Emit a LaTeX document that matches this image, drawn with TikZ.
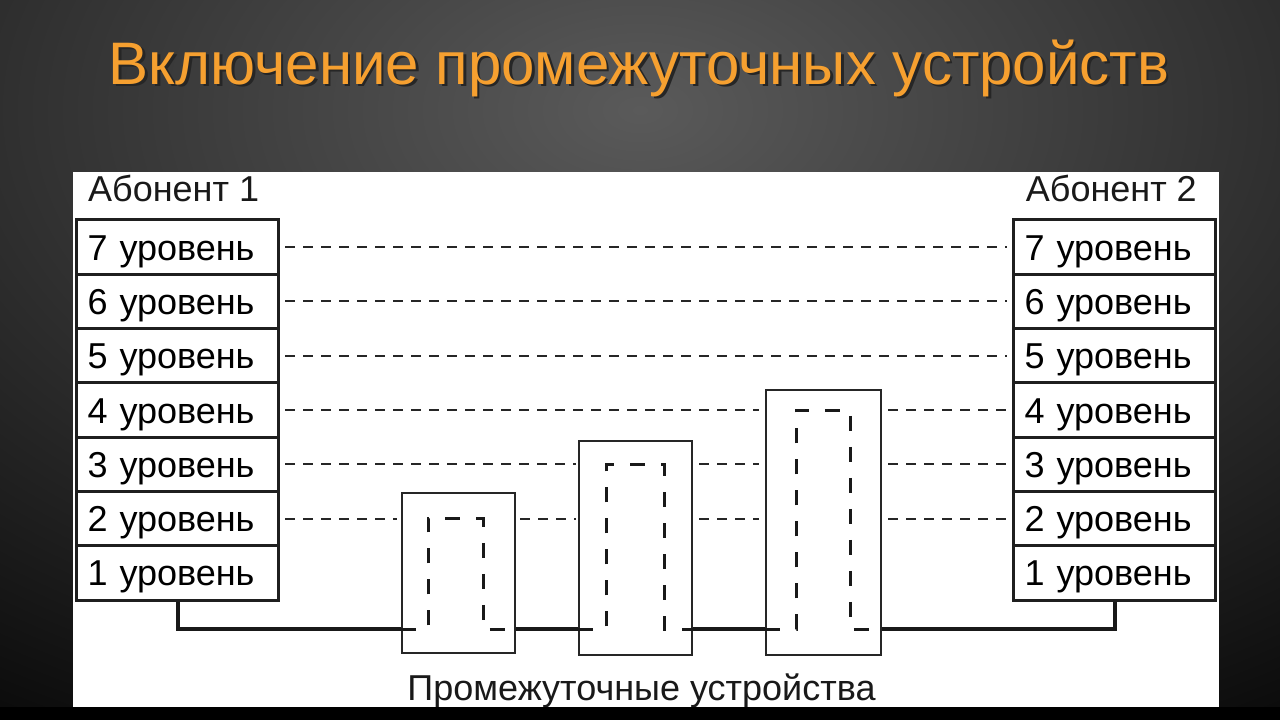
\documentclass[tikz,border=0pt]{standalone}
\usepackage{fontspec}
\setmainfont{Liberation Sans}
\definecolor{ttlorange}{RGB}{246,160,48}
\definecolor{bgmid}{RGB}{90,90,90}
\newcommand\lblfont{\fontsize{36}{40}\selectfont}
\newcommand\ttlfont{\fontsize{60}{66}\selectfont}
\begin{document}
\begin{tikzpicture}[x=1pt,y=-1pt,
  lay/.style={draw=black!88, line width=3pt, fill=white, minimum width=202pt,
    minimum height=54.29pt, inner xsep=11pt, inner ysep=0pt, text width=180pt,
    align=left, text height=26pt, text depth=0pt, font=\lblfont},
  dev/.style={draw=black!85, line width=2.5pt, fill=white, inner sep=0pt},
  conn/.style={dash pattern=on 10pt off 8pt, line width=2pt, black!85},
  innerpath/.style={dash pattern=on 15pt off 16pt, line width=3pt, black!90},
  phys/.style={line width=4pt, black!90},
  txt/.style={font=\lblfont, inner sep=0pt, text=black!90}]
\useasboundingbox (0,0) rectangle (1280,720);
% background
\fill[black] (0,0) rectangle (1280,720);
\begin{scope}
  \clip (0,0) rectangle (1280,720);
  \shade[inner color=bgmid, outer color=black] (640,110) ellipse (1350pt and 820pt);
\end{scope}
% title
\node[font=\ttlfont, text=black!85, anchor=base, inner sep=0pt] (titleshadow) at (641.5,86.5) {Включение промежуточных устройств};
\node[font=\ttlfont, text=ttlorange, anchor=base, inner sep=0pt] (title) at (639,84) {Включение промежуточных устройств};
% panel
\fill[white] (73,172) rectangle (1219,707);
% layer stacks
\node[lay] (L7) at (177.5,247.14) {7 уровень};
\node[lay] (L6) at (177.5,301.43) {6 уровень};
\node[lay] (L5) at (177.5,355.71) {5 уровень};
\node[lay] (L4) at (177.5,410.00) {4 уровень};
\node[lay] (L3) at (177.5,464.29) {3 уровень};
\node[lay] (L2) at (177.5,518.57) {2 уровень};
\node[lay] (L1) at (177.5,572.86) {1 уровень};
\node[lay] (R7) at (1114.5,247.14) {7 уровень};
\node[lay] (R6) at (1114.5,301.43) {6 уровень};
\node[lay] (R5) at (1114.5,355.71) {5 уровень};
\node[lay] (R4) at (1114.5,410.00) {4 уровень};
\node[lay] (R3) at (1114.5,464.29) {3 уровень};
\node[lay] (R2) at (1114.5,518.57) {2 уровень};
\node[lay] (R1) at (1114.5,572.86) {1 уровень};
% devices
\node[dev, minimum width=113pt, minimum height=160pt] (D1) at (458.5,573) {};
\node[dev, minimum width=113pt, minimum height=214pt] (D2) at (635.5,548) {};
\node[dev, minimum width=115pt, minimum height=265pt] (D3) at (823.5,522.5) {};
\coordinate (bus) at (0,629);
% peer dashed connectors
\draw[conn] ([xshift=5pt]L7.east) -- ([xshift=-5pt]R7.west);
\draw[conn] ([xshift=5pt]L6.east) -- ([xshift=-5pt]R6.west);
\draw[conn] ([xshift=5pt]L5.east) -- ([xshift=-5pt]R5.west);
\draw[conn] ([xshift=5pt]L4.east) -- ([xshift=-6pt]L4.east -| D3.west);
\draw[conn] ([xshift=6pt]R4.west -| D3.east) -- ([xshift=-5pt]R4.west);
\draw[conn] ([xshift=5pt]L3.east) -- ([xshift=-2pt]L3.east -| D2.west);
\draw[conn] ([xshift=6pt]L3.east -| D2.east) -- ([xshift=-6pt]L3.east -| D3.west);
\draw[conn] ([xshift=6pt]R3.west -| D3.east) -- ([xshift=-5pt]R3.west);
\draw[conn] ([xshift=5pt]L2.east) -- ([xshift=-4pt]L2.east -| D1.west);
\draw[conn] ([xshift=4pt]L2.east -| D1.east) -- ([xshift=-2pt]L2.east -| D2.west);
\draw[conn] ([xshift=6pt]L2.east -| D2.east) -- ([xshift=-6pt]L2.east -| D3.west);
\draw[conn] ([xshift=6pt]R2.west -| D3.east) -- ([xshift=-5pt]R2.west);
% physical medium
\draw[phys] (L1.south) |- (D1.west |- bus);
\draw[phys] (D1.east |- bus) -- (D2.west |- bus);
\draw[phys] (D2.east |- bus) -- (D3.west |- bus);
\draw[phys] (D3.east |- bus) -| (R1.south);
% paths inside devices
\draw[innerpath] (D1.west |- bus) -- (428,629) -- (428,518.57) -- (483,518.57) -- (483,629) -- (D1.east |- bus);
\draw[innerpath] (D2.west |- bus) -- (606,629) -- (606,464.29) -- (664,464.29) -- (664,629) -- (D2.east |- bus);
\draw[innerpath] (D3.west |- bus) -- (796,629) -- (796,410) -- (850,410) -- (850,629) -- (D3.east |- bus);
% labels
\node[txt, anchor=base west] (ab1) at (88,201) {Абонент 1};
\node[txt, anchor=base east] (ab2) at (1197,201) {Абонент 2};
\node[txt, anchor=base] (cap) at (641.5,700) {Промежуточные устройства};
% bottom band
\fill[black] (0,707) rectangle (1280,720);
\end{tikzpicture}
\end{document}
